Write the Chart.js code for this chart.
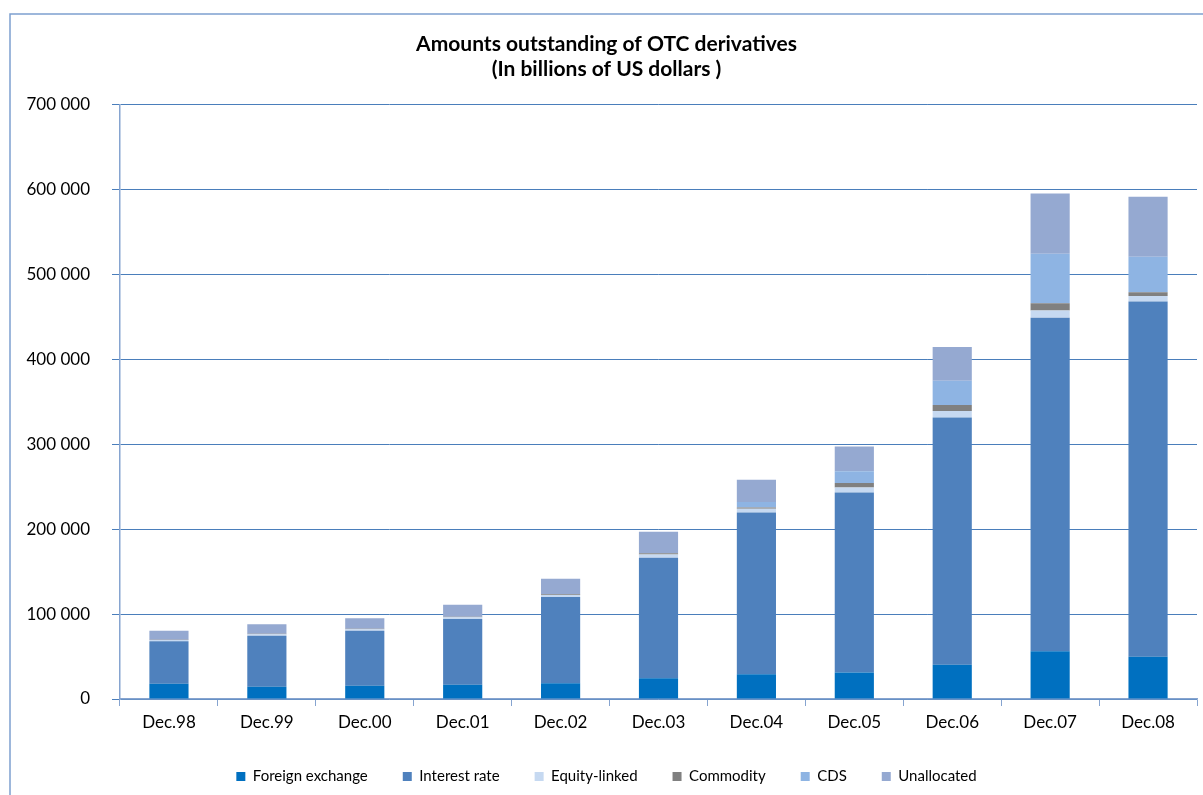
<!DOCTYPE html>
<html>

<head>
    <title>OTC derivatives</title>
    <meta http-equiv="Content-type" content="text/html; charset=utf-8">
    <script src="https://cdn.jsdelivr.net/npm/chart.js@4"></script>
    <style>
        html, body { margin: 0; padding: 0; background: #fff; }
        #wrap { position: relative; width: 1203px; height: 795px; }
    </style>
</head>

<body>
    <div id="wrap">
        <canvas id="otc-bar" width="1203" height="795"></canvas>
    </div>

    <script>
        // amounts outstanding, billions of US dollars
        var periods = ["Dec.98", "Dec.99", "Dec.00", "Dec.01", "Dec.02", "Dec.03", "Dec.04", "Dec.05", "Dec.06", "Dec.07", "Dec.08"];

        var foreignExchange = [18011, 14344, 15666, 16748, 18448, 24475, 29289, 31364, 40271, 56238, 49753];
        var interestRate = [50015, 60091, 64668, 77568, 101658, 141991, 190502, 211970, 291582, 393138, 418678];
        var equityLinked = [1488, 1809, 1891, 1881, 2309, 3787, 4385, 5793, 7488, 8469, 6494];
        var commodity = [415, 548, 662, 598, 923, 1406, 1443, 5434, 7115, 8455, 4427];
        var cds = [0, 0, 0, 0, 0, 0, 6396, 13908, 28650, 58244, 41868];
        var unallocated = [10389, 11408, 12375, 14375, 18328, 25508, 26300, 29199, 39740, 71194, 70742];

        var yTicks = [0, 100000, 200000, 300000, 400000, 500000, 600000, 700000];

        var axisBlue = "#86A4D0";
        var gridBlue = "#4A7EBB";
        var font = "Lato, 'Open Sans', sans-serif";

        function spaced(v) {
            return String(v).replace(/\B(?=(\d{3})+(?!\d))/g, " ");
        }

        // white background + the frame of the chart box
        var frame = {
            id: "frame",
            beforeDraw: function(chart) {
                var ctx = chart.ctx;
                ctx.save();
                ctx.fillStyle = "#fff";
                ctx.fillRect(0, 0, chart.width, chart.height);
                ctx.strokeStyle = "#7DA0CF";
                ctx.lineWidth = 1.5;
                ctx.beginPath();
                ctx.moveTo(10, chart.height);
                ctx.lineTo(10, 14);
                ctx.lineTo(chart.width, 14);
                ctx.stroke();
                ctx.restore();
            }
        };

        var data = {
            labels: periods,
            datasets: [
                { label: "Foreign exchange", data: foreignExchange, backgroundColor: "#0070C0" },
                { label: "Interest rate", data: interestRate, backgroundColor: "#4F81BD" },
                { label: "Equity-linked", data: equityLinked, backgroundColor: "#C6D9F1" },
                { label: "Commodity", data: commodity, backgroundColor: "#808080" },
                { label: "CDS", data: cds, backgroundColor: "#8EB4E3" },
                { label: "Unallocated", data: unallocated, backgroundColor: "#95A9D1" }
            ]
        };

        new Chart(document.getElementById("otc-bar"), {
            type: "bar",
            data: data,
            plugins: [frame],
            options: {
                responsive: false,
                animation: false,
                layout: { padding: { left: 16, right: 6, top: 0, bottom: 1 } },
                datasets: {
                    bar: { barPercentage: 0.4, categoryPercentage: 1, borderWidth: 0 }
                },
                scales: {
                    x: {
                        stacked: true,
                        afterFit: function(scale) { scale.height = 35; },
                        grid: { display: true, drawOnChartArea: false, drawTicks: true, tickLength: 7, color: axisBlue, offset: true },
                        border: { display: true, color: axisBlue, width: 1.5 },
                        ticks: { color: "#000", font: { family: font, size: 17 }, padding: 6, maxRotation: 0 }
                    },
                    y: {
                        stacked: true,
                        min: 0,
                        max: 700000,
                        afterBuildTicks: function(scale) {
                            scale.ticks = yTicks.map(function(v) { return { value: v }; });
                        },
                        afterFit: function(scale) { scale.width = 104; },
                        grid: { color: gridBlue, lineWidth: 1, tickLength: 8, drawTicks: true },
                        border: { display: true, color: axisBlue, width: 1.5 },
                        ticks: {
                            color: "#000",
                            font: { family: font, size: 17 },
                            padding: 22,
                            callback: function(v) { return spaced(v); }
                        }
                    }
                },
                plugins: {
                    title: {
                        display: true,
                        text: ["Amounts outstanding of OTC derivatives", "(In billions of US dollars )"],
                        color: "#000",
                        font: { family: font, size: 21, weight: "bold", lineHeight: 1.19 },
                        padding: { top: 32, bottom: 23 }
                    },
                    legend: {
                        position: "bottom",
                        labels: {
                            color: "#000",
                            font: { family: font, size: 15 },
                            boxWidth: 9,
                            boxHeight: 9,
                            padding: 35
                        }
                    },
                    tooltip: { enabled: false }
                }
            }
        });
    </script>

</body>

</html>
